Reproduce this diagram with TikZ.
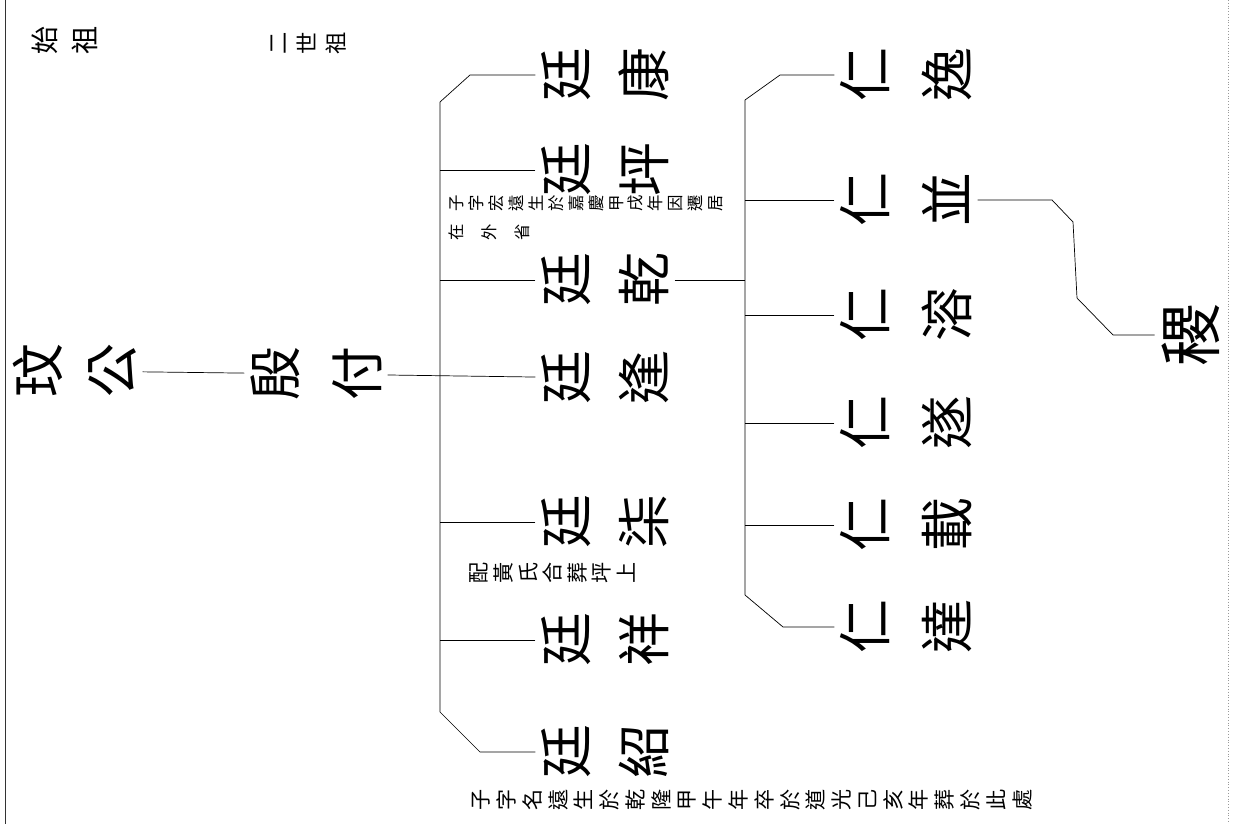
\documentclass[tikz,border=0pt]{standalone}
\usepackage{fontspec}
\usepackage{graphicx}
\newfontfamily\cjk{Noto Sans CJK TC}
\makeatletter
\newcommand\rot[2][0pt]{\@tfor\ch:=#2\do{\rotatebox{90}{\rule[-0.12em]{0pt}{1em}\ch}\kern#1}\kern-#1}
\makeatother
\newcommand\nm[3][0.72cm]{\rot{#2}\hspace{#1}\rot{#3}}
\begin{document}
\begin{tikzpicture}[x=0.03cm,y=-0.03cm,
  person/.style={font=\cjk\fontsize{46}{50}\selectfont,inner sep=3pt},
  head/.style={font=\cjk\fontsize{24}{26}\selectfont,inner sep=0pt},
  note/.style={font=\cjk\fontsize{18}{20}\selectfont,inner sep=0pt,anchor=west},
  tiny/.style={font=\cjk\fontsize{14}{16}\selectfont,inner sep=0pt,anchor=west},
  link/.style={line width=0.6pt}]
  \useasboundingbox (0,0) rectangle (1233,824);
  \draw [line width=0.8pt,black!80] (5,0) -- (5,824);
  \draw [dotted,black!40] (1228,0) -- (1228,824);
  \node [head] (H1) at (65,40) {\rot[10pt]{始祖}};
  \node [head,font=\cjk\fontsize{19}{21}\selectfont] (H2) at (307,43) {\rot[6pt]{二世祖}};
  \node [person] (G1) at (75,371) {\nm[0.6cm]{玟}{公}};
  \node [person] (G2) at (316,374) {\nm[0.84cm]{殷}{付}};
  \foreach \n/\y/\c in {1/75/康,2/170/坪,3/280/乾,4/378/逢,5/522/柒,6/640/祥,7/752/紹}
    \node [person] (T\n) at (605,\y) {\nm{廷}{\c}};
  \foreach \n/\y/\c in {1/75/逸,2/200/並,3/315/溶,4/423/遂,5/525/載,6/627/達}
    \node [person] (R\n) at (906,\y) {\nm[0.84cm]{仁}{\c}};
  \node [person,font=\cjk\fontsize{54}{58}\selectfont] (J) at (1190,335) {\rot{稷}};
  \coordinate (B3a) at (470,75);
  \coordinate (B3b) at (440,102);
  \coordinate (B3c) at (440,712);
  \coordinate (B3d) at (480,752);
  \coordinate (B4a) at (780,75);
  \coordinate (B4b) at (745,100);
  \coordinate (B4c) at (745,595);
  \coordinate (B4d) at (783,627);
  \coordinate (D1) at (1052,200);
  \coordinate (D2) at (1073,222);
  \coordinate (D3) at (1077,298);
  \coordinate (D4) at (1113,335);
  \draw [link] (G1) -- (G2);
  \draw [link] (G2) -- (T4);
  \draw [link] (T1) -- (B3a) -- (B3b) -- (B3c) -- (B3d) -- (T7);
  \foreach \n in {2,3,5,6}
    \draw [link] (T\n) -- (T\n.west -| B3b);
  \draw [link] (T3) -- (T3.east -| B4b);
  \draw [link] (R1) -- (B4a) -- (B4b) -- (B4c) -- (B4d) -- (R6);
  \foreach \n in {2,3,4,5}
    \draw [link] (R\n) -- (R\n.west -| B4b);
  \draw [link] (R2) -- (D1) -- (D2) -- (D3) -- (D4) -- (J);
  \node [tiny] (N1) at (448,203) {\rot[3pt]{子字宏遠生於嘉慶甲戌年因遷居}};
  \node [tiny] (N2) at (448,232) {\rot[14pt]{在外省}};
  \node [note] (N3) at (468,573) {\rot[3pt]{配黃氏合葬坪上}};
  \node [note] (N4) at (470,800) {\rot[4pt]{子字名遠生於乾隆甲午年卒於道光己亥年葬於此處}};
\end{tikzpicture}
\end{document}
